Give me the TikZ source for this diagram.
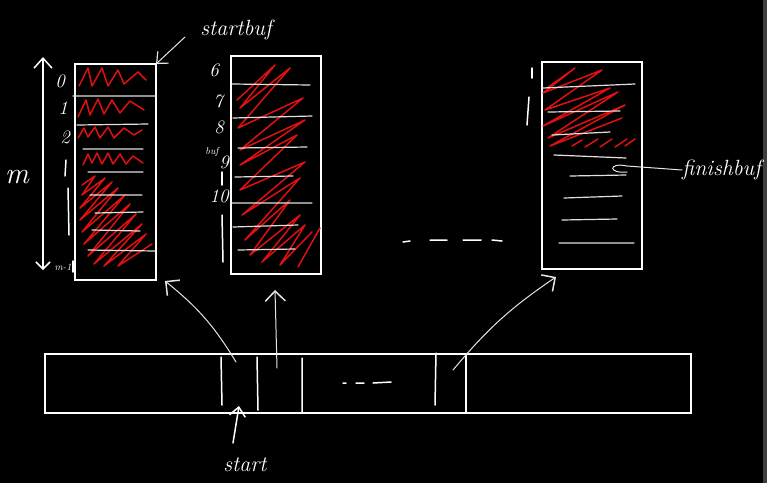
\documentclass[tikz,border=0pt]{standalone}
\usetikzlibrary{arrows.meta}
\definecolor{scrib}{HTML}{E01010}
\definecolor{strip}{HTML}{3C3F41}
\begin{document}
\begin{tikzpicture}[x=1pt,y=-1pt,
  box/.style={draw=white,line width=1.4pt,inner sep=0pt,outer sep=0pt},
  rowline/.style={draw=white!88!black,line width=1.2pt,line cap=round},
  hatch/.style={draw=scrib,line width=1.5pt,line join=round,line cap=round},
  pen/.style={draw=white,line width=1.5pt,line cap=round},
  thinpen/.style={draw=white!90!black,line width=1pt,line cap=round},
  hand/.style={text=white,font=\itshape\fontsize{22}{22}\selectfont,inner sep=0pt},
  digit/.style={text=white,font=\itshape\fontsize{19}{19}\selectfont,inner sep=0pt},
  head/.style={-{Straight Barb[length=10pt,width=20pt,line width=1.5pt]}},
]
\fill[black] (0,0) rectangle (767,483);
\fill[strip] (763,0) rectangle (767,483);
\useasboundingbox (0,0) rectangle (767,483);

% boxes
\node[box,minimum width=81pt,minimum height=216pt] (b1) at (115.5,172) {};
\node[box,minimum width=90pt,minimum height=218pt] (b2) at (276,165) {};
\node[box,minimum width=100pt,minimum height=207pt] (b3) at (592,165.5) {};
\node[box,minimum width=646pt,minimum height=59pt] (bar) at (368,383.5) {};

% red scribbles box 1
\draw[hatch] (79,86)--(88,68)--(92,86)--(102,68)--(108,86)--(118,70)--(124,84)--(138,72)--(146,80);
\draw[hatch] (78,117)--(86,100)--(90,115)--(98,99)--(104,114)--(112,100)--(120,113)--(130,101)--(144,110);
\draw[hatch] (78,138)--(84,128)--(88,137)--(95,127)--(100,138)--(108,127)--(114,138)--(124,128)--(134,135)--(142,130);
\draw[hatch] (83,165)--(88,154)--(92,163)--(97,153)--(102,164)--(108,153)--(113,164)--(120,154)--(126,164)--(133,156)--(143,163);
\draw[hatch] (82,185)--(95,176)--(82,195)--(105,178)--(80,208)--(112,182)--(80,220)--(118,188)--(82,232)--(125,195)--(84,244)--(130,204)--(88,256)--(136,214)--(94,264)--(142,224)--(104,266)--(146,234)--(118,266)--(152,244);

% red scribbles box 2
\draw[hatch] (237,100)--(275,65)--(240,108)--(290,68)--(238,128)--(303,98)--(240,150)--(305,120)--(240,165)--(297,135)--(240,190)--(305,162)--(242,215)--(300,178)--(245,240)--(290,200)--(250,255)--(300,215)--(262,262)--(305,225)--(280,265)--(312,232);
\draw[hatch] (298,267)--(320,228);

% red scribbles box 3
\draw[hatch] (547,88)--(575,68)--(543,93)--(602,70)--(545,110)--(610,88)--(543,126)--(618,92)--(548,138)--(625,105)--(550,146)--(622,118);
\draw[hatch] (572,146)--(582,140) (585,147)--(598,139) (600,147)--(612,139) (615,147)--(627,139) (625,146)--(635,139);

% row lines box 1
\draw[rowline] (73,96)--(155,96) (77,125)--(148,124) (83,149)--(143,149) (88,172)--(143,172)
  (90,195)--(142,195) (95,213)--(143,212) (92,230)--(140,231) (88,250)--(155,251);
% row lines box 2
\draw[rowline] (232,84)--(310,85) (233,118)--(312,116) (238,148)--(307,147) (235,177)--(293,176)
  (232,203)--(312,203) (233,227)--(298,225) (238,250)--(295,249);
% row lines box 3
\draw[rowline] (543,88)--(635,84) (548,112)--(620,111) (552,135)--(610,132) (554,155)--(626,158)
  (570,176)--(626,175) (564,198)--(622,196) (562,220)--(617,219) (559,243)--(634,243);

% labels left of box 1
\node[digit] (d0) at (60,81) {0};
\node[digit] (d1) at (63,108) {1};
\node[digit] (d2) at (65,137) {2};
\draw[pen] (66,160)--(65,176);
\draw[pen] (68,188)--(69,235);
\node[text=white,font=\itshape\fontsize{10}{10}\selectfont,inner sep=0pt] (dm) at (63,267) {m-1};
\draw[pen] (73,261)--(73,272);

% m arrow
\coordinate (mbot) at (43,270);
\coordinate (mtop) at (43,57);
\draw[pen,{Straight Barb[length=7pt,width=14pt,line width=1.5pt]}-{Straight Barb[length=10pt,width=18pt,line width=1.5pt]}] (mbot) -- (mtop);
\node[text=white,font=\itshape\fontsize{30}{30}\selectfont,inner sep=0pt] (m) at (17,177) {m};

% labels left of box 2
\node[digit] (d6) at (214,70) {6};
\node[digit] (d7) at (218,101) {7};
\node[digit] (d8) at (219,127) {8};
\node[text=white,font=\itshape\fontsize{10}{10}\selectfont,inner sep=0pt] (dbuf) at (212,152) {buf};
\node[digit] (d9) at (224,162) {9};
\draw[pen] (222,172)--(222,185);
\node[digit] (d10) at (219,196) {10};
\draw[pen] (222,215)--(223,262);

% labels left of box 3
\draw[pen] (532,68)--(532,78);
\draw[pen] (529,97)--(527,125);

% dashes between boxes
\draw[pen] (403,242)--(410,241) (430,240)--(447,240) (463,240)--(481,240) (492,240)--(502,241);

% bar separators
\draw[pen] (221,357)--(222,405) (257,357)--(258,410) (302,358)--(302,412) (436,353)--(435,405);
\draw[box] (466,354)--(466,413);
\draw[pen] (343,383)--(346,383) (356,383)--(364,383) (373,383)--(391,382);

% arrows from bar to buffers
\coordinate (a1s) at (236,362);
\coordinate (a1e) at (165,281);
\draw[thinpen,head] (a1s) to[bend right=10] (a1e);
\coordinate (a2s) at (277,368);
\coordinate (a2e) at (275,290);
\draw[thinpen,head] (a2s) -- (a2e);
\coordinate (a3s) at (453,370);
\coordinate (a3e) at (556,277);
\draw[thinpen,head] (a3s) to[bend left=8] (a3e);

% start label
\node[hand] (start) at (245,465) {start};
\coordinate (sts) at (233,443);
\coordinate (ste) at (239,406);
\draw[pen,{Straight Barb[length=9pt,width=16pt,line width=1.5pt]}-] (ste) -- (sts);

% startbuf label
\node[hand] (sb) at (236,30) {startbuf};
\coordinate (sbs) at (185,37);
\draw[thinpen,-{Straight Barb[length=9pt,width=16pt,line width=1.2pt]}] (sbs) -- (b1.north east);

% finishbuf label
\node[hand,anchor=west] (fb) at (682,170) {finishbuf};
\draw[thinpen] (fb.west) -- (627,166) .. controls (608,162) and (608,174) .. (627,172);
\end{tikzpicture}
\end{document}
